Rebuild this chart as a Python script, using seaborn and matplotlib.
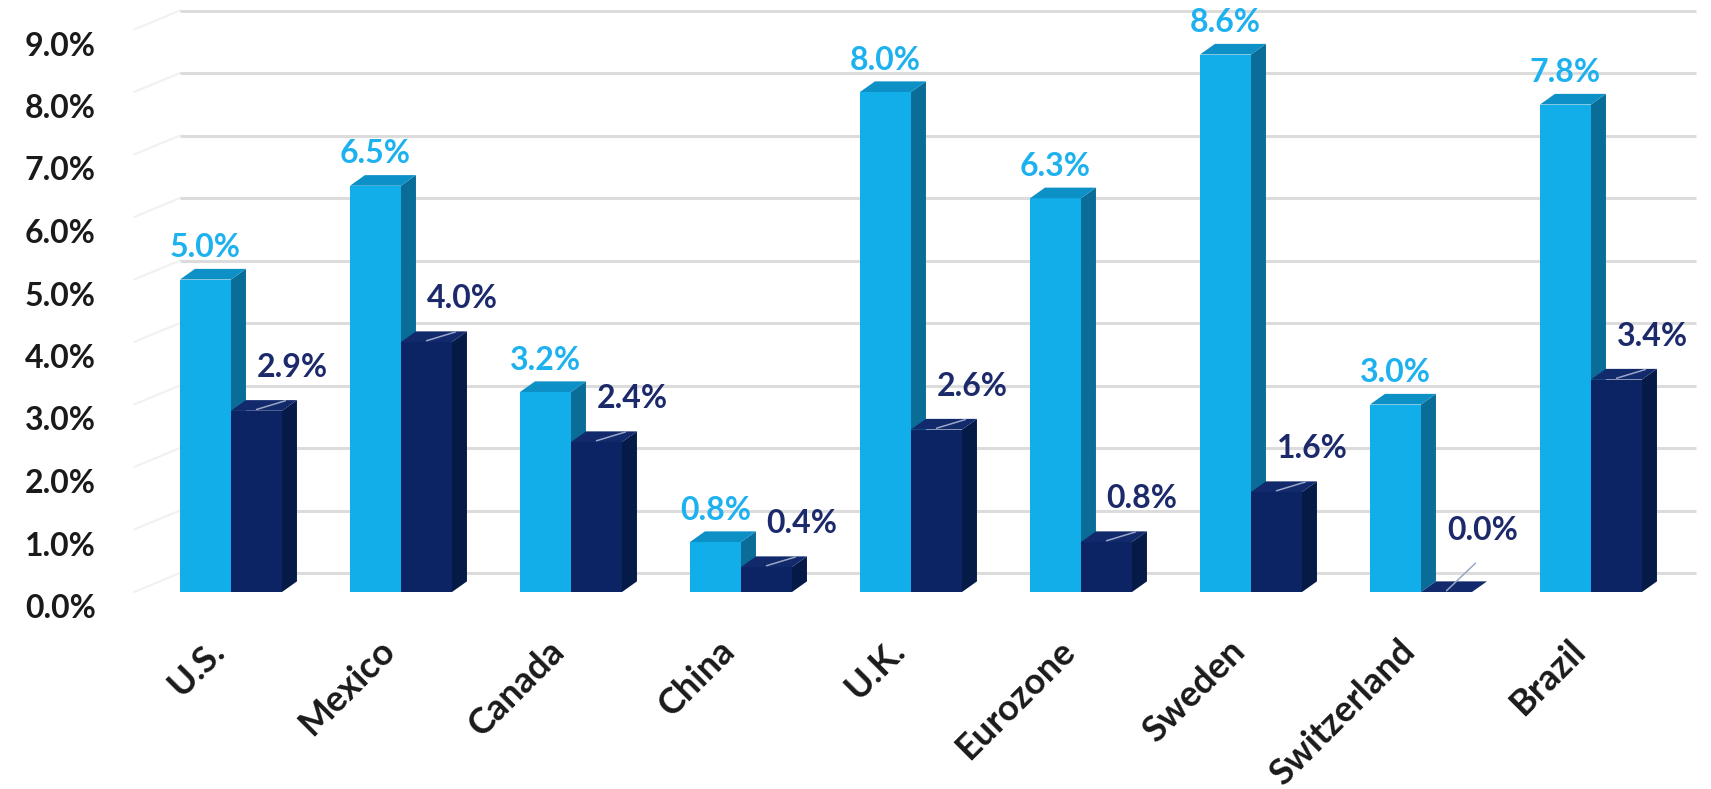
import matplotlib
matplotlib.use("Agg")
import matplotlib.pyplot as plt
from matplotlib.patches import Polygon
from matplotlib.transforms import ScaledTranslation
import pandas as pd
import seaborn as sns

# ---- data -------------------------------------------------------------
countries = ["U.S.", "Mexico", "Canada", "China", "U.K.", "Eurozone",
             "Sweden", "Switzerland", "Brazil"]
series_names = ["series_1", "series_2"]
series_1 = [5.0, 6.5, 3.2, 0.8, 8.0, 6.3, 8.6, 3.0, 7.8]
series_2 = [2.9, 4.0, 2.4, 0.4, 2.6, 0.8, 1.6, 0.0, 3.4]
y_ticks = [0, 1, 2, 3, 4, 5, 6, 7, 8, 9]

df = pd.DataFrame({
    "country": countries * 2,
    "series": [series_names[0]] * len(countries) + [series_names[1]] * len(countries),
    "value": series_1 + series_2,
})

# ---- style ------------------------------------------------------------
sns.set_theme(style="white")
plt.rcParams["font.family"] = ["Lato", "DejaVu Sans"]
plt.rcParams["font.weight"] = "bold"

FRONT = ["#12aee9", "#0c2463"]
TOP = ["#0c90c6", "#122a6c"]
SIDE = ["#0a6d98", "#061a48"]
LABEL = ["#1db1ef", "#1c2a6b"]
GRID = "#dcdcdc"
FS = 23
FS_X = 26

DX, DY = 0.088, 0.17          # depth of the 3-D extrusion (x units, y units)
WALL_DY = 0.304               # back wall offset of the gridlines

W, H = 1711, 789
fig = plt.figure(figsize=(W / 100, H / 100), dpi=100)
fig.patch.set_facecolor("white")
y_top = 9.35
ax = fig.add_axes([146 / W, (H - 592) / H, 1530 / W, (y_top * 62.5) / H])

sns.barplot(data=df, x="country", y="value", hue="series",
            palette=FRONT, width=0.6, saturation=1, legend=False,
            linewidth=0, ax=ax)

ax.set_xlim(-0.5, 8.5)
ax.set_ylim(0, y_top)
for s in ax.spines.values():
    s.set_visible(False)
ax.set_xlabel("")
ax.set_ylabel("")

# back-wall gridlines and faint side-wall edges
for t in y_ticks:
    ax.plot([-0.30, 8.62], [t + WALL_DY, t + WALL_DY], color=GRID, lw=2.2,
            zorder=0.5, clip_on=False, solid_capstyle="butt")
    ax.plot([-0.57, -0.30], [t, t + WALL_DY], color="#f1f1f1", lw=1.5,
            zorder=0.4, clip_on=False)

# extrude each bar into a box: top face, side face, labels
n = len(countries)
bars = list(ax.patches)
for k, bar in enumerate(bars):
    s = k // n
    bar.set_zorder(2 + s)
    bar.set_clip_on(False)
    x0 = bar.get_x()
    x1 = x0 + bar.get_width()
    h = bar.get_height()
    xc = (x0 + x1) / 2
    top = Polygon([(x0, h), (x1, h), (x1 + DX, h + DY), (x0 + DX, h + DY)],
                  closed=True, facecolor=TOP[s], edgecolor="none",
                  zorder=2 + s, clip_on=False)
    side = Polygon([(x1, 0), (x1, h), (x1 + DX, h + DY), (x1 + DX, DY)],
                   closed=True, facecolor=SIDE[s], edgecolor="none",
                   zorder=2 + s, clip_on=False)
    ax.add_patch(side)
    ax.add_patch(top)
    if s == 0:
        ax.text(xc, h + 0.51, f"{h:.1f}%", ha="center", va="center",
                color=LABEL[0], fontsize=FS, fontweight="bold", zorder=5)
    else:
        anchor = max(h, 0.3)
        ax.plot([xc, xc + 0.17], [h + 0.02, anchor + 0.16],
                color="#9aa6c6", lw=1.1, zorder=4, clip_on=False)
        ax.text(xc + 0.21, anchor + 0.69, f"{h:.1f}%", ha="center",
                va="center", color=LABEL[1], fontsize=FS, fontweight="bold",
                zorder=5)

# axis tick labels
ax.set_yticks(y_ticks)
ax.set_yticklabels([f"{t:.1f}%" for t in y_ticks], fontsize=FS,
                   fontweight="bold", color="#1a1a1a")
ax.tick_params(axis="y", length=0, pad=36)
shift = ScaledTranslation(0, -14 / 100, fig.dpi_scale_trans)
for lab in ax.get_yticklabels():
    lab.set_transform(lab.get_transform() + shift)

ax.set_xticks(range(n))
ax.set_xticklabels(countries, rotation=45, ha="right", va="top",
                   fontsize=FS_X, fontweight="bold", color="#1a1a1a")
ax.tick_params(axis="x", length=0, pad=30)

fig.savefig("out.png", dpi=100, facecolor="white")
